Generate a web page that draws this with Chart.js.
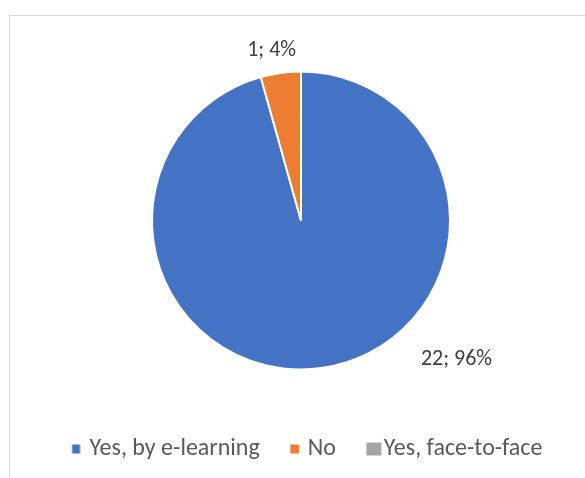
<!DOCTYPE html>
<html>
<head>
<meta charset="utf-8">
<script src="https://cdn.jsdelivr.net/npm/chart.js@4"></script>
<style>
  html, body { margin: 0; padding: 0; background: #fff; overflow: hidden; }
  #wrap { position: relative; width: 585px; height: 478px; }
  #frame { position: absolute; left: 9px; top: 15px; width: 600px; height: 500px; border: 1px solid #d9d9d9; box-sizing: border-box; }
  canvas#c { position: absolute; left: 0; top: 0; }
</style>
</head>
<body>
<div id="wrap">
  <div id="frame"></div>
  <canvas id="c" width="585" height="478"></canvas>
</div>
<script>
const categories = ["Yes, by e-learning", "No", "Yes, face-to-face"];
const counts = [22, 1, 0];
const percentLabels = ["96%", "4%", "0%"];
const colors = ["#4472C4", "#ED7D31", "#A5A5A5"];

const FONT = "Carlito, Calibri, Lato, sans-serif";
const LEGEND_FS = 24;

// legend key images (Excel draws the key of an empty slice larger)
function keyImage(color, w, h) {
  const cv = document.createElement('canvas');
  cv.width = 40; cv.height = 20;
  const g = cv.getContext('2d');
  g.fillStyle = color;
  g.fillRect(15.5, (20 - h) / 2, w, h);
  return cv;
}
const keySizes = [[8, 9], [9, 9], [15, 13]];

const labelPlugin = {
  id: 'sliceLabels',
  afterLayout(chart, args, opts) {
    // nudge the legend to the right like the reference
    const lg = chart.legend;
    if (lg) { lg.left += opts.legendShift; lg.right += opts.legendShift; }
  },
  afterDatasetsDraw(chart, args, opts) {
    const ctx = chart.ctx;
    const meta = chart.getDatasetMeta(0);
    ctx.save();
    ctx.font = opts.font;
    ctx.fillStyle = opts.color;
    ctx.textAlign = 'center';
    ctx.textBaseline = 'middle';
    meta.data.forEach((arc, i) => {
      if (!counts[i]) return;
      const p = opts.place[i] || {};
      const mid = (arc.startAngle + arc.endAngle) / 2;
      const ang = p.angle !== undefined ? (p.angle - 90) * Math.PI / 180 : mid;
      const dist = arc.outerRadius + (p.gap || 20);
      const x = arc.x + Math.cos(ang) * dist;
      const y = arc.y + Math.sin(ang) * dist;
      ctx.fillText(counts[i] + "; " + percentLabels[i], x, y);
    });
    ctx.restore();
  }
};

new Chart(document.getElementById('c'), {
  type: 'pie',
  data: {
    labels: categories,
    datasets: [{
      data: counts,
      backgroundColor: colors,
      borderColor: '#ffffff',
      borderWidth: 2,
      hoverOffset: 0
    }]
  },
  options: {
    responsive: false,
    animation: false,
    devicePixelRatio: 1,
    radius: 149,
    layout: { padding: { left: 25, right: 8, top: 38, bottom: 7 } },
    plugins: {
      tooltip: { enabled: false },
      legend: {
        position: 'bottom',
        labels: {
          font: { family: FONT, size: LEGEND_FS },
          color: '#595959',
          usePointStyle: true,
          pointStyleWidth: 2,
          padding: 34,
          generateLabels(chart) {
            return categories.map((c, i) => ({
              text: c,
              fillStyle: colors[i],
              strokeStyle: colors[i],
              fontColor: '#595959',
              lineWidth: 0,
              pointStyle: keyImage(colors[i], keySizes[i][0], keySizes[i][1]),
              hidden: false,
              index: i
            }));
          }
        }
      },
      sliceLabels: {
        font: "22px " + FONT,
        color: '#404040',
        legendShift: 8,
        place: [{ angle: 131.8, gap: 59.6 }, { angle: 350.2, gap: 23.5 }, {}]
      }
    }
  },
  plugins: [labelPlugin]
});
</script>
</body>
</html>
